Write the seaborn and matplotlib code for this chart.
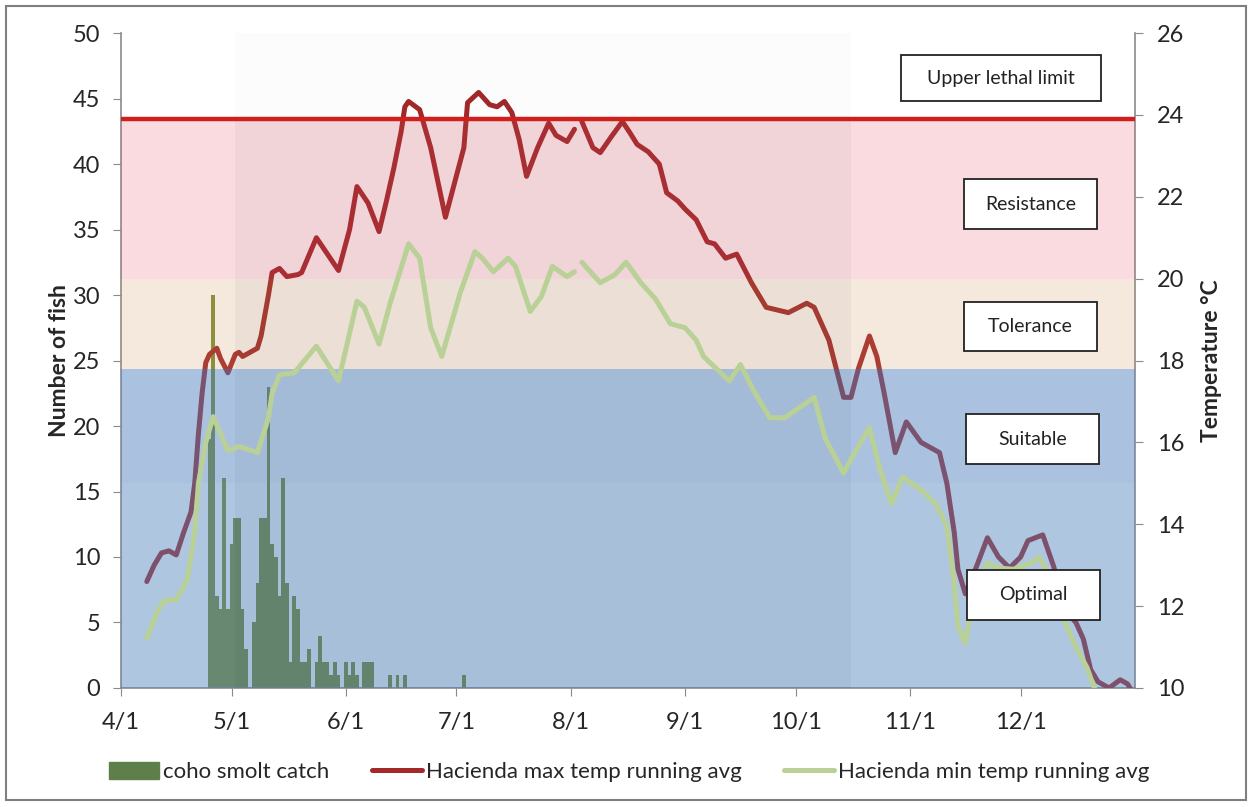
import pandas as pd
import seaborn as sns
import matplotlib.pyplot as plt
from matplotlib.patches import Rectangle, Patch
from matplotlib.lines import Line2D

YEAR = "2013"

# coho smolt catch (fish per day)
catch_dates = ["4/25", "4/26", "4/27", "4/28", "4/29", "4/30", "5/1", "5/2", "5/3", "5/4",
               "5/5", "5/6", "5/7", "5/8", "5/9", "5/10", "5/11", "5/12", "5/13", "5/14",
               "5/15", "5/16", "5/17", "5/18", "5/19", "5/20", "5/21", "5/22", "5/23", "5/24",
               "5/25", "5/26", "5/27", "5/28", "5/29", "5/30", "5/31", "6/1", "6/2", "6/3",
               "6/4", "6/5", "6/6", "6/7", "6/8", "6/13", "6/15", "6/17", "7/3"]
catch_fish = [19, 30, 7, 6, 16, 6, 11, 13, 13, 6,
              3, 0, 5, 8, 13, 13, 23, 11, 10, 7,
              16, 8, 2, 7, 6, 2, 2, 3, 0, 2,
              4, 2, 2, 1, 2, 1, 0, 2, 1, 2,
              1, 0, 2, 2, 2, 1, 1, 1, 1]

# Hacienda max temp running avg (deg C), None = missing day
max_dates = ["4/8", "4/10", "4/12", "4/14", "4/16", "4/18", "4/20", "4/21", "4/22", "4/23",
             "4/24", "4/25", "4/27", "4/28", "4/30", "5/2", "5/3", "5/4", "5/6", "5/8",
             "5/9", "5/11", "5/12", "5/14", "5/16", "5/19", "5/20", "5/24", "5/27", "5/30",
             "6/2", "6/4", "6/7", "6/10", "6/12", "6/14", "6/16", "6/17", "6/18", "6/21",
             "6/24", "6/28", "7/3", "7/4", "7/7", "7/10", "7/12", "7/14", "7/16", "7/18",
             "7/20", "7/23", "7/26", "7/28", "7/31", "8/2", "8/3", "8/4", "8/7", "8/9",
             "8/12", "8/15", "8/17", "8/19", "8/22", "8/25", "8/27", "8/30", "9/1", "9/4",
             "9/7", "9/9", "9/12", "9/15", "9/19", "9/23", "9/29", "10/4", "10/6", "10/10",
             "10/14", "10/16", "10/18", "10/21", "10/23", "10/25", "10/28", "10/31", "11/4", "11/9",
             "11/11", "11/13", "11/14", "11/16", "11/19", "11/22", "11/25", "11/28", "12/1", "12/3",
             "12/7", "12/10", "12/13", "12/16", "12/18", "12/20", "12/22", "12/25", "12/28", "12/30",
             "12/31"]
max_temp = [12.6, 13.0, 13.3, 13.35, 13.25, 13.8, 14.3, 15.0, 16.2, 17.2,
            17.95, 18.15, 18.3, 18.05, 17.7, 18.15, 18.2, 18.1, 18.2, 18.3,
            18.6, 19.6, 20.15, 20.25, 20.05, 20.1, 20.15, 21.0, 20.6, 20.2,
            21.2, 22.25, 21.85, 21.15, 21.9, 22.7, 23.6, 24.2, 24.33, 24.13,
            23.2, 21.5, 23.2, 24.3, 24.55, 24.25, 24.2, 24.33, 24.06, 23.4,
            22.5, 23.2, 23.8, 23.5, 23.35, 23.65, None, 23.84, 23.2, 23.08,
            23.47, 23.84, 23.57, 23.28, 23.1, 22.8, 22.1, 21.9, 21.7, 21.44,
            20.9, 20.85, 20.5, 20.6, 19.9, 19.3, 19.17, 19.4, 19.3, 18.5,
            17.1, 17.1, 17.8, 18.6, 18.1, 17.2, 15.75, 16.5, 16.0, 15.75,
            15.0, 13.8, 12.9, 12.3, 12.96, 13.67, 13.2, 12.93, 13.2, 13.6,
            13.74, 12.96, 11.9, 11.6, 11.2, 10.45, 10.15, 10.0, 10.2, 10.1,
            9.95]

# Hacienda min temp running avg (deg C), None = missing day
min_dates = ["4/8", "4/11", "4/13", "4/16", "4/19", "4/21", "4/22", "4/24", "4/26", "4/30",
             "5/3", "5/8", "5/11", "5/12", "5/14", "5/18", "5/24", "5/30", "6/4", "6/6",
             "6/10", "6/13", "6/18", "6/21", "6/24", "6/27", "7/2", "7/6", "7/8", "7/11",
             "7/15", "7/17", "7/21", "7/24", "7/27", "7/31", "8/2", "8/3", "8/4", "8/9",
             "8/13", "8/16", "8/20", "8/24", "8/28", "9/1", "9/4", "9/6", "9/13", "9/16",
             "9/20", "9/24", "9/28", "10/6", "10/9", "10/14", "10/17", "10/21", "10/24", "10/27",
             "10/30", "11/4", "11/8", "11/11", "11/13", "11/14", "11/16", "11/18", "11/22", "11/25",
             "11/29", "12/4", "12/6", "12/9", "12/13", "12/16", "12/19", "12/21", "12/22"]
min_temp = [11.22, 11.9, 12.15, 12.15, 12.64, 13.8, 15.0, 16.0, 16.63, 15.8,
            15.9, 15.75, 16.6, 17.2, 17.65, 17.7, 18.35, 17.5, 19.45, 19.3,
            18.4, 19.4, 20.85, 20.5, 18.8, 18.1, 19.65, 20.66, 20.5, 20.17,
            20.5, 20.3, 19.2, 19.56, 20.3, 20.05, 20.17, None, 20.4, 19.9,
            20.1, 20.4, 19.9, 19.5, 18.9, 18.8, 18.5, 18.1, 17.5, 17.9,
            17.2, 16.6, 16.6, 17.1, 16.1, 15.25, 15.75, 16.36, 15.3, 14.5,
            15.16, 14.84, 14.5, 13.94, 12.55, 11.5, 11.1, 12.1, 13.06, 12.93,
            12.9, 13.06, 13.2, 12.7, 11.6, 11.0, 10.5, 10.0, 9.7]

# temperature zones (deg C)
zone_names = ["Optimal", "Suitable", "Tolerance", "Resistance"]
zone_low = [10, 15, 17.8, 20]
zone_high = [15, 17.8, 20, 23.9]
lethal_limit = 23.9

tick_labels = ["4/1", "5/1", "6/1", "7/1", "8/1", "9/1", "10/1", "11/1", "12/1"]


def to_dates(days):
    return pd.to_datetime([YEAR + "/" + d for d in days], format="%Y/%m/%d")


def line_frame(days, temps):
    df = pd.DataFrame({"date": to_dates(days),
                       "temp": [float("nan") if t is None else t for t in temps]})
    df["seg"] = df["temp"].isna().cumsum()
    return df.dropna()


sns.set_style("ticks")
plt.rcParams["font.family"] = ["Lato", "DejaVu Sans"]

bar_color = "#7D8F35"
legend_bar_color = "#5F7F4A"
max_color = "#A3292A"
min_color = "#B9D096"
lethal_color = "#D0201C"
zone_colors = ["#4F81BD", "#4F81BD", "#CD915A", "#E65064"]
zone_alpha = [0.45, 0.48, 0.2, 0.2]

fig = plt.figure(figsize=(12.51, 8.07), dpi=100)
ax = fig.add_axes([0.0967, 0.1475, 0.8105, 0.8115])
ax2 = ax.twinx()

# bars (left axis)
ax.bar(to_dates(catch_dates), catch_fish, width=1.0, color=bar_color, linewidth=0, zorder=2)

# max line sits under the coloured zones
max_df = line_frame(max_dates, max_temp)
sns.lineplot(data=max_df, x="date", y="temp", units="seg", estimator=None, color=max_color,
             lw=3.6, ax=ax2, zorder=2, legend=False)

for lo, hi, c, a in zip(zone_low, zone_high, zone_colors, zone_alpha):
    ax2.axhspan(lo, hi, color=c, alpha=a, lw=0, zorder=3)

# greyish shaded block (stronger over the coloured zones)
rect_start, rect_end = to_dates(["5/2", "10/16"])
ax2.fill_between([rect_start, rect_end], 10, lethal_limit, color="black", alpha=0.035, lw=0, zorder=3.5)
ax2.fill_between([rect_start, rect_end], lethal_limit, 26, color="black", alpha=0.012, lw=0, zorder=3.5)

min_df = line_frame(min_dates, min_temp)
sns.lineplot(data=min_df, x="date", y="temp", units="seg", estimator=None, color=min_color,
             lw=3.6, ax=ax2, zorder=4, legend=False)

ax2.axhline(lethal_limit, color=lethal_color, lw=3.2, zorder=5)

# axes ranges and ticks
ax.set_xlim(to_dates(["4/1"])[0], pd.Timestamp("2014-01-01"))
ax.set_ylim(0, 50)
ax2.set_ylim(10, 26)
ax.set_yticks(range(0, 51, 5))
ax2.set_yticks(range(10, 27, 2))
ax.set_xticks(to_dates(tick_labels))
ax.set_xticklabels(tick_labels)

ax.set_xlabel("")
ax2.set_xlabel("")
ax.set_ylabel("Number of fish", fontsize=16.5, fontweight="bold", labelpad=2)
ax2.set_ylabel("Temperature °C", fontsize=16.5, fontweight="bold", labelpad=12)

spine_col = "#8a8a8a"
for a in (ax, ax2):
    a.spines["top"].set_visible(False)
    for s in a.spines.values():
        s.set_color(spine_col)
        s.set_linewidth(1.2)
ax.spines["right"].set_visible(False)
ax2.spines["left"].set_visible(False)
ax2.spines["bottom"].set_visible(False)
ax.tick_params(axis="y", direction="out", length=6, color=spine_col, labelsize=17, pad=9)
ax.tick_params(axis="x", direction="out", length=6, color=spine_col, labelsize=17, pad=11)
ax2.tick_params(axis="y", direction="out", length=6, color=spine_col, labelsize=17, pad=10)

# zone label boxes (axes fraction)
boxes = [("Upper lethal limit", 0.769, 0.896, 0.198, 0.070),
         ("Resistance", 0.831, 0.701, 0.132, 0.076),
         ("Tolerance", 0.831, 0.514, 0.132, 0.076),
         ("Suitable", 0.833, 0.342, 0.132, 0.076),
         ("Optimal", 0.834, 0.104, 0.132, 0.076)]
for txt, x0, y0, w, h in boxes:
    ax2.add_patch(Rectangle((x0, y0), w, h, transform=ax2.transAxes, facecolor="white",
                            edgecolor="#222222", lw=1.3, zorder=6))
    ax2.text(x0 + w / 2, y0 + h / 2, txt, transform=ax2.transAxes, ha="center", va="center",
             fontsize=14, color="#222222", zorder=7)

# legend
handles = [Patch(color=legend_bar_color),
           Line2D([], [], color=max_color, lw=3.6),
           Line2D([], [], color=min_color, lw=3.6)]
labels = ["coho smolt catch", "Hacienda max temp running avg", "Hacienda min temp running avg"]
fig.legend(handles, labels, loc="center", bbox_to_anchor=(0.503, 0.043), ncol=3, frameon=False,
           fontsize=16, handlelength=2.25, handletextpad=0.18, columnspacing=1.9, handleheight=0.8)

# outer border
fig.patches.append(Rectangle((0.005, 0.009), 0.991, 0.984, transform=fig.transFigure,
                             fill=False, edgecolor="#7f7f7f", lw=1.5))

plt.savefig("out.png", dpi=100)
